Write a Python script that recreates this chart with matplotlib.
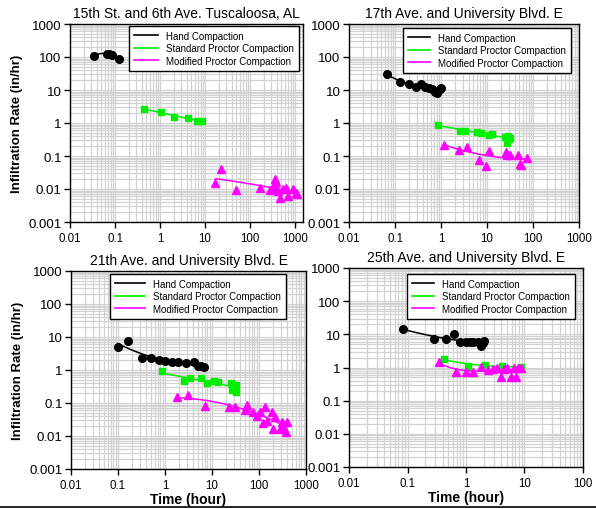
import matplotlib.pyplot as plt
import numpy as np
from matplotlib.lines import Line2D

plt.rcParams['font.family'] = ['Liberation Sans', 'DejaVu Sans']

# ---- data (time in hours, rate in in/hr) ----
# 15th St. and 6th Ave. Tuscaloosa, AL
tl_hand_t = [0.034, 0.065, 0.075, 0.085, 0.12]
tl_hand_r = [110, 125, 122, 118, 90]
tl_std_t = [0.43, 1.05, 2.1, 4.1, 6.5, 8.4]
tl_std_r = [2.65, 2.2, 1.52, 1.45, 1.17, 1.14]
tl_mod_t = [17, 23, 49, 165, 280, 320, 340, 360, 380, 420, 470, 550, 620, 700, 900, 1050, 1100]
tl_mod_r = [0.015, 0.040, 0.0095, 0.0105, 0.0095, 0.011, 0.013, 0.020, 0.016, 0.009,
            0.0055, 0.010, 0.011, 0.006, 0.010, 0.0075, 0.0070]

# 17th Ave. and University Blvd. E
tr_hand_t = [0.068, 0.13, 0.2, 0.28, 0.37, 0.45, 0.55, 0.65, 0.75, 0.8, 0.87, 0.95, 1.02]
tr_hand_r = [30, 17, 15, 12, 15, 12, 11.5, 10.5, 9, 8, 9.5, 11, 11.5]
tr_std_t = [0.85, 2.6, 3.4, 6, 7.5, 11, 13, 25, 27, 28, 30, 32]
tr_std_r = [0.88, 0.58, 0.56, 0.55, 0.5, 0.43, 0.48, 0.37, 0.25, 0.4, 0.33, 0.36]
tr_mod_t = [1.18, 2.5, 3.6, 6.7, 9.4, 11.2, 25.7, 27, 31.6, 48, 52, 55, 75]
tr_mod_r = [0.22, 0.156, 0.19, 0.077, 0.049, 0.145, 0.13, 0.11, 0.107, 0.107, 0.057, 0.055, 0.085]

# 21th Ave. and University Blvd. E
bl_hand_t = [0.098, 0.166, 0.33, 0.5, 0.745, 1.0, 1.38, 1.92, 2.75, 4.1, 5.1, 5.8, 6.8]
bl_hand_r = [5.1, 7.7, 2.26, 2.3, 2.0, 1.9, 1.7, 1.8, 1.6, 1.7, 1.35, 1.35, 1.25]
bl_std_t = [0.85, 2.5, 3.4, 5.7, 7.7, 11.2, 13.6, 25.4, 26, 27, 32, 33]
bl_std_r = [0.91, 0.45, 0.57, 0.56, 0.40, 0.45, 0.44, 0.39, 0.25, 0.35, 0.35, 0.22]
bl_mod_t = [1.8, 3.1, 7.1, 23.4, 31, 50, 56, 76, 89, 105, 124, 135, 145, 186, 200, 218,
            282, 305, 330, 375, 400]
bl_mod_r = [0.15, 0.17, 0.083, 0.074, 0.074, 0.062, 0.089, 0.052, 0.04, 0.052, 0.025, 0.074,
            0.029, 0.052, 0.016, 0.037, 0.016, 0.026, 0.019, 0.013, 0.027]

# 25th Ave. and University Blvd. E
br_hand_t = [0.085, 0.284, 0.45, 0.62, 0.79, 0.99, 1.17, 1.33, 1.62, 1.8, 1.98, 2.06]
br_hand_r = [14.6, 7.3, 7.3, 10, 5.7, 5.8, 5.8, 5.8, 5.8, 4.3, 5.4, 6.3]
br_std_t = [0.42, 1.07, 2.1, 4.1, 8.7]
br_std_r = [1.8, 1.14, 1.2, 1.14, 1.02]
br_mod_t = [0.35, 0.67, 1.0, 1.33, 1.8, 2.4, 2.9, 3.4, 4.0, 4.5, 5.0, 5.9, 6.5, 7.2, 7.8, 8.8]
br_mod_r = [1.45, 0.75, 0.75, 0.75, 1.02, 0.82, 0.92, 1.0, 0.51, 0.92, 1.0, 0.51, 1.0,
            0.51, 1.0, 1.0]

titles = ['15th St. and 6th Ave. Tuscaloosa, AL', '17th Ave. and University Blvd. E',
          '21th Ave. and University Blvd. E', '25th Ave. and University Blvd. E']
labels = ['Hand Compaction', 'Standard Proctor Compaction', 'Modified Proctor Compaction']

GREEN = '#00ee00'
MAG = '#ff00ff'


def trend(ax, t, r, color, deg=2):
    # smooth trend line, polynomial fit in log-log space
    lt = np.log10(t)
    lr = np.log10(r)
    c = np.polyfit(lt, lr, deg)
    xs = np.linspace(lt.min(), lt.max(), 100)
    ax.plot(10**xs, 10**np.polyval(c, xs), color=color, lw=1.1, zorder=3)


def panel(ax, title, hand, std, mod, xmax, leg_pos, handlelen, degs=(2, 2, 2)):
    ax.set_xscale('log')
    ax.set_yscale('log')
    ax.set_xlim(0.01, xmax)
    ax.set_ylim(0.001, 1000)
    ax.grid(True, which='both', color='#d2d2d2', lw=0.9)
    ax.set_axisbelow(True)

    trend(ax, hand[0], hand[1], 'black', degs[0])
    trend(ax, std[0], std[1], GREEN, degs[1])
    trend(ax, mod[0], mod[1], MAG, degs[2])
    ax.plot(hand[0], hand[1], 'o', color='black', ms=5.5, ls='none', zorder=4)
    ax.plot(std[0], std[1], 's', color=GREEN, ms=5, ls='none', zorder=4)
    ax.plot(mod[0], mod[1], '^', color=MAG, ms=6, ls='none', zorder=4)

    handles = [Line2D([], [], color='black', lw=1.2),
               Line2D([], [], color=GREEN, lw=1.2),
               Line2D([], [], color=MAG, lw=1.2)]
    leg = ax.legend(handles, labels, loc='upper left', bbox_to_anchor=leg_pos,
                    borderaxespad=0, fontsize=7, fancybox=False, framealpha=1,
                    edgecolor='black', handlelength=handlelen, labelspacing=0.25,
                    handletextpad=0.8, borderpad=0.5)
    leg.get_frame().set_linewidth(1.0)

    ax.set_title(title, fontsize=10, pad=5)
    ax.tick_params(which='minor', length=0)
    ax.tick_params(which='major', direction='out', length=4, width=1)
    ax.tick_params(axis='y', labelsize=9.5, pad=2)
    ax.tick_params(axis='x', labelsize=8.3, pad=3)
    ax.set_xticks([v for v in [0.01, 0.1, 1, 10, 100, 1000] if v <= xmax])
    ax.set_yticks([0.001, 0.01, 0.1, 1, 10, 100, 1000])
    ax.xaxis.set_major_formatter(plt.FuncFormatter(lambda v, p: '%g' % v))
    ax.yaxis.set_major_formatter(plt.FuncFormatter(lambda v, p: '%g' % v))
    for s in ax.spines.values():
        s.set_linewidth(1.0)


fig = plt.figure(figsize=(5.96, 5.10), dpi=100)
W, H = 596.0, 510.0

ax1 = fig.add_axes([70 / W, 1 - 223 / H, 233 / W, 198 / H])
ax2 = fig.add_axes([349 / W, 1 - 223 / H, 230 / W, 198 / H])
ax3 = fig.add_axes([71 / W, 1 - 470 / H, 235 / W, 198 / H])
ax4 = fig.add_axes([349 / W, 1 - 468 / H, 234 / W, 199 / H])

panel(ax1, titles[0], (tl_hand_t, tl_hand_r), (tl_std_t, tl_std_r), (tl_mod_t, tl_mod_r),
      0.01 * 10**(233 / 45), (0.253, 0.99), 2.5)
panel(ax2, titles[1], (tr_hand_t, tr_hand_r), (tr_std_t, tr_std_r), (tr_mod_t, tr_mod_r),
      1000, (0.235, 0.98), 2.3)
panel(ax3, titles[2], (bl_hand_t, bl_hand_r), (bl_std_t, bl_std_r), (bl_mod_t, bl_mod_r),
      1000, (0.166, 0.985), 3.1)
panel(ax4, titles[3], (br_hand_t, br_hand_r), (br_std_t, br_std_r), (br_mod_t, br_mod_r),
      100, (0.248, 0.97), 2.3, degs=(2, 2, 3))

for ax in (ax1, ax3):
    ax.set_ylabel('Infiltration Rate (in/hr)', fontsize=9.5, fontweight='bold', labelpad=4)
for ax in (ax3, ax4):
    ax.set_xlabel('Time (hour)', fontsize=10, fontweight='bold', labelpad=1)

fig.add_artist(Line2D([0, 1], [1 - 508 / H, 1 - 508 / H], color='black', lw=1.2))

fig.savefig('out.png', dpi=100)
